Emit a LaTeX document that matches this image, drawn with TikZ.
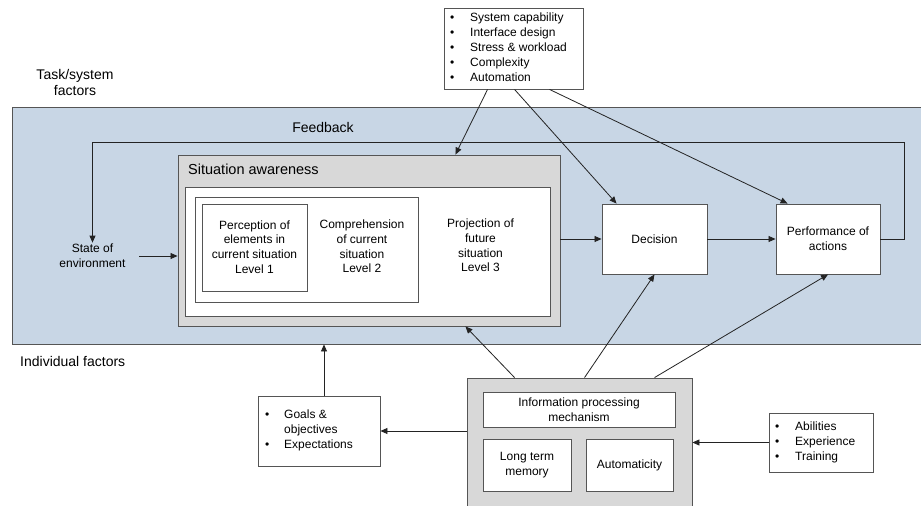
\documentclass[tikz,border=0pt]{standalone}
\usepackage{fontspec}
\setmainfont{Liberation Sans}
\usetikzlibrary{arrows.meta}
\definecolor{bandblue}{RGB}{200,214,229}
\definecolor{sagray}{RGB}{216,216,216}
\definecolor{edgecol}{RGB}{85,85,85}
\definecolor{linecol}{RGB}{35,35,35}
\tikzset{
  box/.style={draw=edgecol, line width=0.9pt, fill=white, inner sep=0pt},
  graybox/.style={draw=edgecol, line width=0.9pt, fill=sagray, inner sep=0pt},
  bandbox/.style={draw=edgecol, line width=0.9pt, fill=bandblue, inner sep=0pt},
  txt/.style={inner sep=0pt, align=center, text=black, font=\fontsize{12}{14.6}\selectfont},
  lbl/.style={inner sep=0pt, align=center, text=black, font=\fontsize{14}{16}\selectfont},
  listtxt/.style={inner sep=0pt, anchor=west, text=black, font=\fontsize{12}{15}\selectfont},
  arr/.style={draw=linecol, line width=0.8pt, -{Triangle[length=7pt,width=6pt]}},
  plainline/.style={draw=linecol, line width=0.8pt}
}
\begin{document}
\begin{tikzpicture}[x=1pt, y=-1pt]
\clip (0,0) rectangle (921,506);
\fill[white] (0,0) rectangle (921,506);

% blue band
\node[bandbox, minimum width=913pt, minimum height=237pt] (band) at (468.5,225.5) {};

% labels
\node[lbl] (tasklbl) at (75,82.5) {Task/system\\factors};
\node[lbl] (fblbl) at (323,127) {Feedback};
\node[lbl, anchor=west] (indlbl) at (20,361) {Individual factors};

% top factors box
\node[box, minimum width=139pt, minimum height=81pt] (tsk) at (513.5,48.5) {};
\node[listtxt] (tsklist) at (450,48.5) {\begin{tabular}{@{}l@{\hspace{15.8pt}}l@{}}
\textbullet & System capability\\
\textbullet & Interface design\\
\textbullet & Stress \& workload\\
\textbullet & Complexity\\
\textbullet & Automation
\end{tabular}};

% situation awareness
\node[graybox, minimum width=382pt, minimum height=171pt] (sa) at (369,240.5) {};
\node[lbl, anchor=west, font=\fontsize{14.5}{16}\selectfont] (satitle) at (188,169) {Situation awareness};
\node[box, minimum width=365pt, minimum height=129pt] (sainner) at (367.5,251.5) {};
\node[box, minimum width=223pt, minimum height=105pt] (comp) at (306.5,249.5) {};
\node[box, minimum width=105pt, minimum height=87pt] (perc) at (254.5,247.5) {};
\node[txt] (perctxt) at (254.5,247) {Perception of\\elements in\\current situation\\Level 1};
\node[txt] (comptxt) at (362,246.5) {Comprehension\\of current\\situation\\Level 2};
\node[txt] (projtxt) at (480.5,245.5) {Projection of\\future\\situation\\Level 3};

% decision, performance
\node[box, minimum width=105pt, minimum height=70pt, txt] (dec) at (654.5,239) {Decision};
\node[box, minimum width=104pt, minimum height=70pt, txt] (perf) at (828,239) {Performance of\\actions};

% state of environment
\node[txt, inner sep=1.5pt] (state) at (92.5,256) {State of\\environment};

% info processing
\node[graybox, minimum width=225pt, minimum height=160pt] (info) at (579.5,458) {};
\node[box, minimum width=192pt, minimum height=35pt, txt] (ipm) at (579,409.5) {Information processing\\mechanism};
\node[box, minimum width=88pt, minimum height=52pt, txt] (ltm) at (527,465) {Long term\\memory};
\node[box, minimum width=87pt, minimum height=52pt, txt] (auto) at (629.5,465) {Automaticity};

% goals box
\node[box, minimum width=122pt, minimum height=70pt] (goals) at (319,431) {};
\node[listtxt] (goalslist) at (265,430.5) {\begin{tabular}{@{}l@{\hspace{14.8pt}}l@{}}
\textbullet & Goals \&\\
 & objectives\\
\textbullet & Expectations
\end{tabular}};

% abilities box
\node[box, minimum width=104pt, minimum height=59pt] (abil) at (821,442.5) {};
\node[listtxt] (abillist) at (775,442) {\begin{tabular}{@{}l@{\hspace{15.8pt}}l@{}}
\textbullet & Abilities\\
\textbullet & Experience\\
\textbullet & Training
\end{tabular}};

% feedback loop
\coordinate (fbR) at (904,142);
\coordinate (fbL) at (92.5,142);
\draw[arr] (perf.east) -| (fbR) -- (fbL) -- (state.north);

% main flow
\draw[arr] ([xshift=12pt]state.east) -- (state.east -| sa.west);
\draw[arr] (dec.west -| sa.east) -- (dec.west);
\draw[arr] (dec.east) -- (perf.west);

% task factors arrows
\draw[arr] ([xshift=44pt]tsk.south west) -- ([xshift=-105pt]sa.north east);
\draw[arr] ([xshift=71pt]tsk.south west) -- ([xshift=15pt]dec.north west);
\draw[arr] ([xshift=106pt]tsk.south west) -- ([xshift=12pt]perf.north west);

% individual factors arrows
\draw[arr] ([xshift=48pt]info.north west) -- ([xshift=-95pt]sa.south east);
\draw[arr] ([xshift=118pt]info.north west) -- (dec.south);
\draw[arr] ([xshift=188pt]info.north west) -- (perf.south);
\draw[arr] ([xshift=5pt]goals.north) -- ([xshift=5pt]goals.north |- band.south);
\draw[arr] (goals.east -| info.west) -- (goals.east);
\draw[arr] (abil.west) -- (abil.west -| info.east);
\end{tikzpicture}
\end{document}
